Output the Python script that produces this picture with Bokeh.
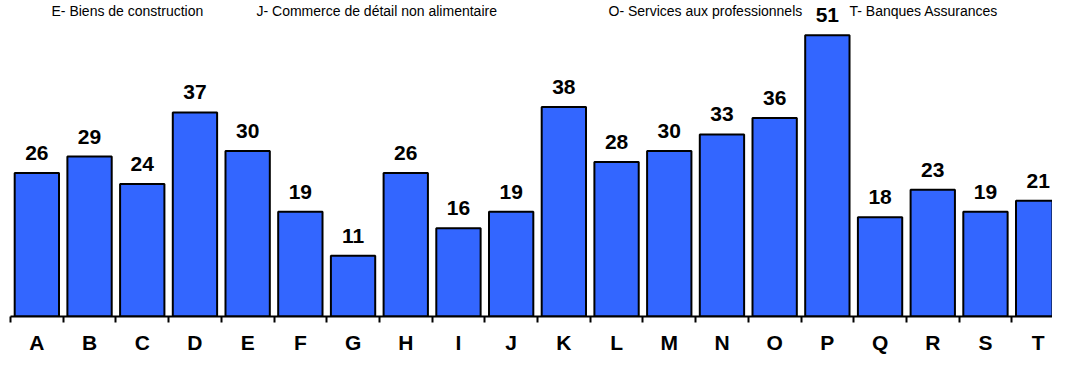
from bokeh.plotting import figure
from bokeh.models import Range1d, FixedTicker
from bokeh.core.properties import value
from bokeh.embed import file_html
from bokeh.resources import INLINE

categories = ["A", "B", "C", "D", "E", "F", "G", "H", "I", "J",
              "K", "L", "M", "N", "O", "P", "Q", "R", "S", "T"]
values = [26, 29, 24, 37, 30, 19, 11, 26, 16, 19,
          38, 28, 30, 33, 36, 51, 18, 23, 19, 21]
legend_labels = ["E- Biens de construction",
                 "J- Commerce de détail non alimentaire",
                 "O- Services aux professionnels",
                 "T- Banques Assurances"]
legend_x = [0.278, 4.168, 10.847, 15.42]

idx = list(range(len(categories)))
FONT = "Liberation Sans"
Y_TOP = 57.29

p = figure(width=1052, height=356, output_backend="svg", toolbar_location=None,
           x_range=Range1d(-0.5, 19.272), y_range=Range1d(0, Y_TOP),
           y_axis_location=None)
p.min_border_left = 10
p.min_border_right = 0
p.min_border_top = 0
p.min_border_bottom = 0
p.outline_line_color = None
p.xgrid.visible = False
p.ygrid.visible = False
p.background_fill_color = "white"
p.border_fill_color = "white"

p.vbar(x=idx, top=values, width=0.841, bottom=0,
       fill_color="#3366FF", line_color="black", line_width=2)

p.text(x=idx, y=values, text=[str(v) for v in values],
       text_align="center", text_baseline="alphabetic", y_offset=-20,
       text_font=value(FONT), text_font_style="bold", text_font_size="21px",
       text_color="black")

p.text(x=legend_x, y=[Y_TOP] * len(legend_labels), text=legend_labels,
       text_align="left", text_baseline="top", y_offset=2,
       text_font=value(FONT), text_font_size="14px", text_color="black")

ax = p.xaxis[0]
ax.ticker = FixedTicker(ticks=idx, minor_ticks=[i - 0.5 for i in range(len(categories) + 1)])
ax.major_label_overrides = {i: c for i, c in zip(idx, categories)}
ax.axis_line_color = "black"
ax.axis_line_width = 2
ax.major_tick_out = 0
ax.major_tick_in = 0
ax.minor_tick_out = 6
ax.minor_tick_in = 0
ax.minor_tick_line_color = "black"
ax.minor_tick_line_width = 2
ax.major_label_standoff = 8
ax.major_label_text_font = FONT
ax.major_label_text_font_style = "bold"
ax.major_label_text_font_size = "21px"
ax.major_label_text_color = "black"

open("out.html", "w").write(file_html(p, INLINE))
